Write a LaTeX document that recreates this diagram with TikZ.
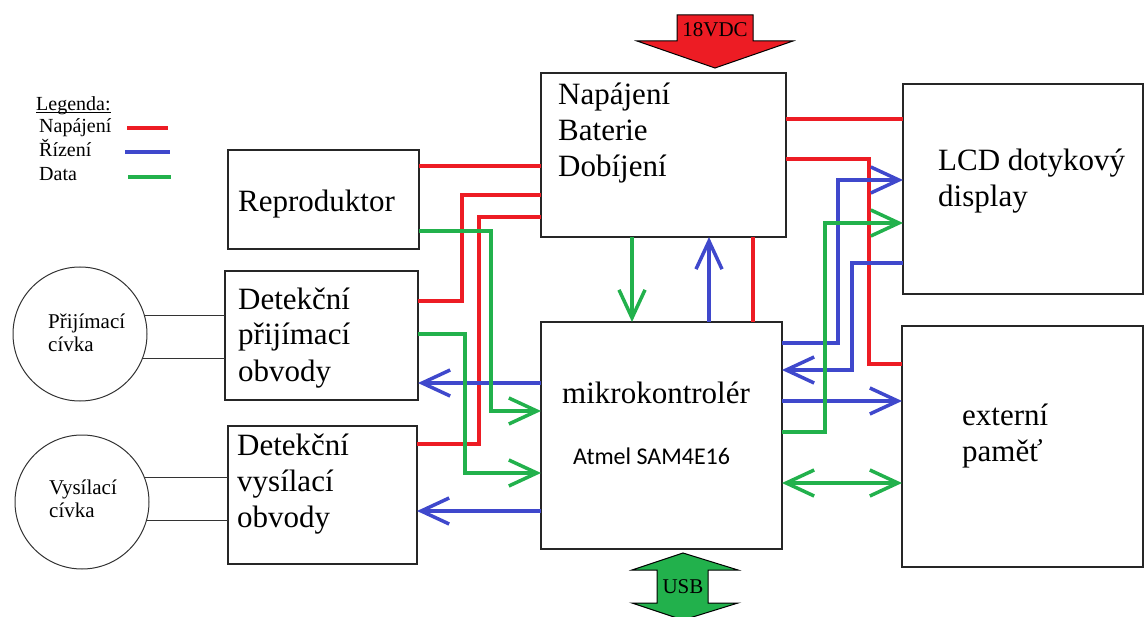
\documentclass[tikz,border=0pt]{standalone}
\usepackage{fontspec}
\setmainfont{Liberation Serif}
\newfontfamily\calibri{Carlito}
\usetikzlibrary{arrows.meta}

\definecolor{cervena}{RGB}{237,28,36}
\definecolor{modra}{RGB}{63,72,204}
\definecolor{zelena}{RGB}{34,177,76}

\tikzset{
    blok/.style={draw=black!85, line width=1.5pt, inner sep=0pt, outer sep=0pt, anchor=north west},
    civka/.style={draw=black!80, line width=1pt, circle, minimum size=134pt, inner sep=0pt, outer sep=0pt},
    popis/.style={font=\fontsize{31}{36}\selectfont, inner sep=0pt, anchor=base west, align=left},
    civpopis/.style={font=\fontsize{21}{23}\selectfont, inner sep=0pt, anchor=base west, align=left},
    legpopis/.style={font=\fontsize{20}{24}\selectfont, inner sep=0pt, anchor=base west},
    napaj/.style={draw=cervena, line width=3.5pt},
    rizeni/.style={draw=modra, line width=3.5pt},
    datovy/.style={draw=zelena, line width=3.5pt},
    hrot/.style={-{Straight Barb[length=28pt,width=26pt]}},
    dvojhrot/.style={{Straight Barb[length=28pt,width=26pt]}-{Straight Barb[length=28pt,width=26pt]}}
}

\begin{document}
\begin{tikzpicture}[x=1pt, y=-1pt]
            \useasboundingbox (0,0) rectangle (1145,617);

            \node[legpopis] (legenda) at (36,111) {\underline{\smash{Legenda:}}};
            \node[legpopis] (legnap) at (39,133) {Napájení};
            \node[legpopis] (legriz) at (39,157) {Řízení};
            \node[legpopis] (legdat) at (39,181) {Data};
            \draw[napaj] (127,128) -- (168,128);
            \draw[rizeni] (125,152) -- (170,152);
            \draw[datovy] (128,177) -- (171,177);

            \node[blok, minimum width=245pt, minimum height=164pt] (pwr) at (541,73) {};
            \node[blok, minimum width=191pt, minimum height=99pt] (repro) at (228,150) {};
            \node[blok, minimum width=193pt, minimum height=129pt] (prijbox) at (225,271) {};
            \node[blok, minimum width=189pt, minimum height=138pt] (vysbox) at (228,426) {};
            \node[blok, minimum width=241pt, minimum height=227pt] (mcu) at (541,322) {};
            \node[blok, minimum width=240pt, minimum height=210pt] (lcd) at (903,84) {};
            \node[blok, minimum width=241pt, minimum height=241pt] (pamet) at (902,326) {};

            \node[popis] (pwrtxt) at (558,177) {Napájení\\Baterie\\Dobíjení};
            \node[popis] (reprotxt) at (238,212) {Reproduktor};
            \node[popis] (prijtxt) at (238,381) {Detekční\\přijímací\\obvody};
            \node[popis] (vystxt) at (237,527) {Detekční\\vysílací\\obvody};
            \node[popis] (mcutxt) at (562,403) {mikrokontrolér};
            \node[popis, font=\calibri\fontsize{24}{28}\selectfont] (mcutyp) at (573,464) {Atmel SAM4E16};
            \node[popis] (lcdtxt) at (938,207) {LCD dotykový\\display};
            \node[popis] (pamettxt) at (962,461) {externí\\paměť};

            \node[civka] (prijcoil) at (80,334) {};
            \node[civka] (vyscoil) at (82,502) {};
            \node[civpopis] (prijctxt) at (48,352) {Přijímací\\cívka};
            \node[civpopis] (vysctxt) at (49,517) {Vysílací\\cívka};
            \draw[black!80, line width=1pt] (prijcoil.16) -- (prijcoil.16 -| prijbox.west);
            \draw[black!80, line width=1pt] (prijcoil.-21) -- (prijcoil.-21 -| prijbox.west);
            \draw[black!80, line width=1pt] (vyscoil.21) -- (vyscoil.21 -| vysbox.west);
            \draw[black!80, line width=1pt] (vyscoil.-16) -- (vyscoil.-16 -| vysbox.west);

            \draw[draw=black, fill=cervena, line width=1pt] (677,15) -- (753,15) -- (753,41) -- (793,41) -- (715,68) -- (637,41) -- (677,41) -- cycle;
            \node[font=\fontsize{21}{24}\selectfont, inner sep=0pt] (vstup) at (715,30) {18VDC};
            \draw[draw=black, fill=zelena, line width=1pt] (683,553) -- (738,570) -- (708,570) -- (708,603) -- (738,603) -- (683,620) -- (632,603) -- (657,603) -- (657,570) -- (632,570) -- cycle;
            \node[font=\fontsize{21}{24}\selectfont, inner sep=0pt] (usb) at (683,587) {USB};

            \draw[napaj] (repro.east |- 0,166) -- (pwr.west |- 0,166);
            \draw[napaj] (prijbox.east |- 0,301) -- ++(44,0) |- (pwr.west |- 0,195);
            \draw[napaj] (vysbox.east |- 0,444) -- ++(62,0) |- (pwr.west |- 0,217);
            \draw[napaj] (pwr.east |- 0,119) -- (lcd.west |- 0,119);
            \draw[napaj] (pwr.east |- 0,159) -- ++(83,0) |- (pamet.west |- 0,364);
            \draw[napaj] (pwr.south -| 753,0) -- (mcu.north -| 753,0);

            \draw[rizeni, hrot] (mcu.west |- 0,383) -- (prijbox.east |- 0,383);
            \draw[rizeni, hrot] (mcu.west |- 0,511) -- (vysbox.east |- 0,511);
            \draw[rizeni, hrot] (mcu.north -| 709,0) -- (pwr.south -| 709,0);
            \draw[rizeni, hrot] (mcu.east |- 0,343) -- ++(56,0) |- (lcd.west |- 0,180);
            \draw[rizeni, hrot] (lcd.west |- 0,263) -- ++(-51,0) |- (mcu.east |- 0,370);
            \draw[rizeni, hrot] (mcu.east |- 0,401) -- (pamet.west |- 0,401);

            \draw[datovy, hrot] (repro.east |- 0,231) -- ++(72,0) |- (mcu.west |- 0,411);
            \draw[datovy, hrot] (prijbox.east |- 0,334) -- ++(47,0) |- (mcu.west |- 0,473);
            \draw[datovy, hrot] (pwr.south -| 632,0) -- (mcu.north -| 632,0);
            \draw[datovy, hrot] (mcu.east |- 0,432) -- ++(43,0) |- (lcd.west |- 0,223);
            \draw[datovy, dvojhrot] (mcu.east |- 0,483) -- (pamet.west |- 0,483);
        \end{tikzpicture}
\end{document}
